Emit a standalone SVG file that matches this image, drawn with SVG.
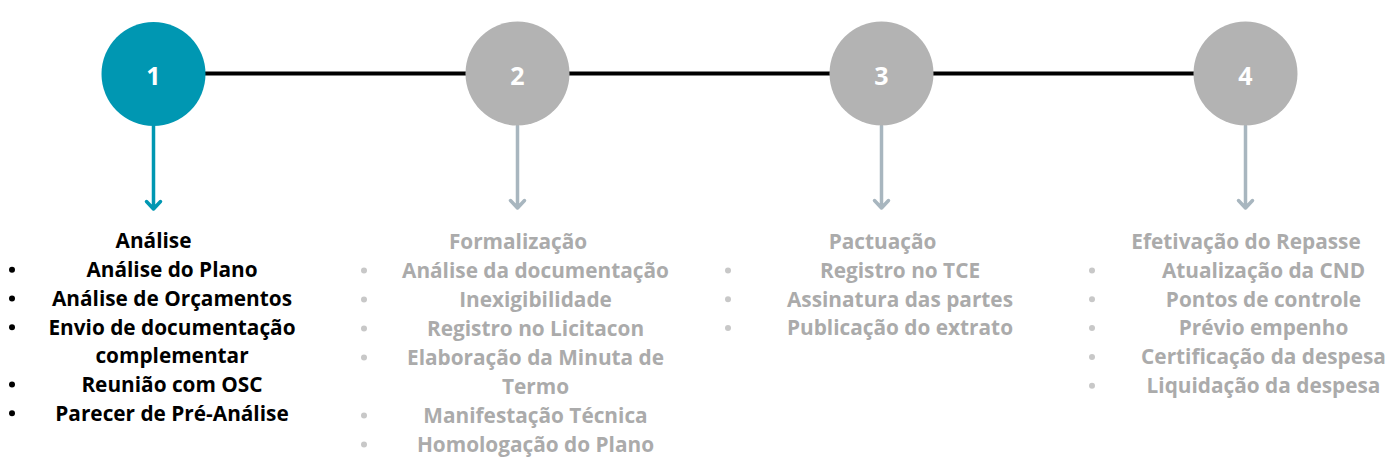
<svg xmlns="http://www.w3.org/2000/svg" width="1393" height="465" viewBox="0 0 1393 465">
<defs>
<style>
.t{font-family:"Open Sans","Noto Sans","Liberation Sans",sans-serif;font-weight:700;font-size:20.8px;text-anchor:middle}
.num{font-family:"Open Sans","Noto Sans","Liberation Sans",sans-serif;font-weight:700;font-size:25px;fill:#ffffff;text-anchor:middle}
.dark{fill:#000000}
.grey{fill:#ABABAB}
.bk{fill:#000000}
.bg{fill:#C8C8C8}
.arr1{stroke:#0097B2;stroke-width:3.5;fill:none;stroke-linecap:round;stroke-linejoin:round}
.arr2{stroke:#A8B6BF;stroke-width:3.5;fill:none;stroke-linecap:round;stroke-linejoin:round}
</style>
</defs>
<g id="connectors">
<line x1="153" y1="73.5" x2="1245" y2="73.5" stroke="#000000" stroke-width="4"/>
<path class="arr1" d="M153.5 126 V209 M146.5 201.5 L153.5 209 L160.5 201.5"/>
<path class="arr2" d="M517.5 126 V208 M510.5 200.5 L517.5 208 L524.5 200.5"/>
<path class="arr2" d="M881.5 126 V208 M874.5 200.5 L881.5 208 L888.5 200.5"/>
<path class="arr2" d="M1245.5 126 V208 M1238.5 200.5 L1245.5 208 L1252.5 200.5"/>
</g>
<g id="node1">
<circle cx="153.5" cy="74" r="52" fill="#0097B2"/>
<text class="num" x="153.5" y="85">1</text>
</g>
<g id="node2">
<circle cx="517.5" cy="73.5" r="52" fill="#B3B3B3"/>
<text class="num" x="517.5" y="85">2</text>
</g>
<g id="node3">
<circle cx="881.5" cy="73.5" r="52" fill="#B3B3B3"/>
<text class="num" x="881.5" y="85">3</text>
</g>
<g id="node4">
<circle cx="1245.5" cy="73.5" r="52" fill="#B3B3B3"/>
<text class="num" x="1245.5" y="85">4</text>
</g>
<g id="list1">
<text class="t dark" x="153.5" y="248.3">Análise</text>
<circle class="bk" cx="12" cy="269.8" r="3"/>
<text class="t dark" x="172" y="277.3">Análise do Plano</text>
<circle class="bk" cx="12" cy="298.5" r="3"/>
<text class="t dark" x="172" y="306">Análise de Orçamentos</text>
<circle class="bk" cx="12" cy="327.2" r="3"/>
<text class="t dark" x="172" y="334.7">Envio de documentação</text>
<text class="t dark" x="172" y="363.4">complementar</text>
<circle class="bk" cx="12" cy="384.6" r="3"/>
<text class="t dark" x="172" y="392.1">Reunião com OSC</text>
<circle class="bk" cx="12" cy="413.3" r="3"/>
<text class="t dark" x="172" y="420.8">Parecer de Pré-Análise</text>
</g>
<g id="list2">
<text class="t grey" x="518" y="249">Formalização</text>
<circle class="bg" cx="364" cy="270.5" r="3"/>
<text class="t grey" x="535.5" y="278">Análise da documentação</text>
<circle class="bg" cx="364" cy="299.5" r="3"/>
<text class="t grey" x="535.5" y="307">Inexigibilidade</text>
<circle class="bg" cx="364" cy="328.5" r="3"/>
<text class="t grey" x="535.5" y="336">Registro no Licitacon</text>
<circle class="bg" cx="364" cy="357.5" r="3"/>
<text class="t grey" x="535.5" y="365">Elaboração da Minuta de</text>
<text class="t grey" x="535.5" y="394">Termo</text>
<circle class="bg" cx="364" cy="415.5" r="3"/>
<text class="t grey" x="535.5" y="423">Manifestação Técnica</text>
<circle class="bg" cx="364" cy="444.5" r="3"/>
<text class="t grey" x="535.5" y="452">Homologação do Plano</text>
</g>
<g id="list3">
<text class="t grey" x="882.5" y="249">Pactuação</text>
<circle class="bg" cx="728" cy="270.5" r="3"/>
<text class="t grey" x="900" y="277.8">Registro no TCE</text>
<circle class="bg" cx="728" cy="299.3" r="3"/>
<text class="t grey" x="900" y="306.6">Assinatura das partes</text>
<circle class="bg" cx="728" cy="328.1" r="3"/>
<text class="t grey" x="900" y="335.4">Publicação do extrato</text>
</g>
<g id="list4">
<text class="t grey" x="1246" y="249">Efetivação do Repasse</text>
<circle class="bg" cx="1092" cy="270.5" r="3"/>
<text class="t grey" x="1263.5" y="277.8">Atualização da CND</text>
<circle class="bg" cx="1092" cy="299.3" r="3"/>
<text class="t grey" x="1263.5" y="306.6">Pontos de controle</text>
<circle class="bg" cx="1092" cy="328.1" r="3"/>
<text class="t grey" x="1263.5" y="335.4">Prévio empenho</text>
<circle class="bg" cx="1092" cy="356.9" r="3"/>
<text class="t grey" x="1263.5" y="364.2">Certificação da despesa</text>
<circle class="bg" cx="1092" cy="385.7" r="3"/>
<text class="t grey" x="1263.5" y="393">Liquidação da despesa</text>
</g>
</svg>
